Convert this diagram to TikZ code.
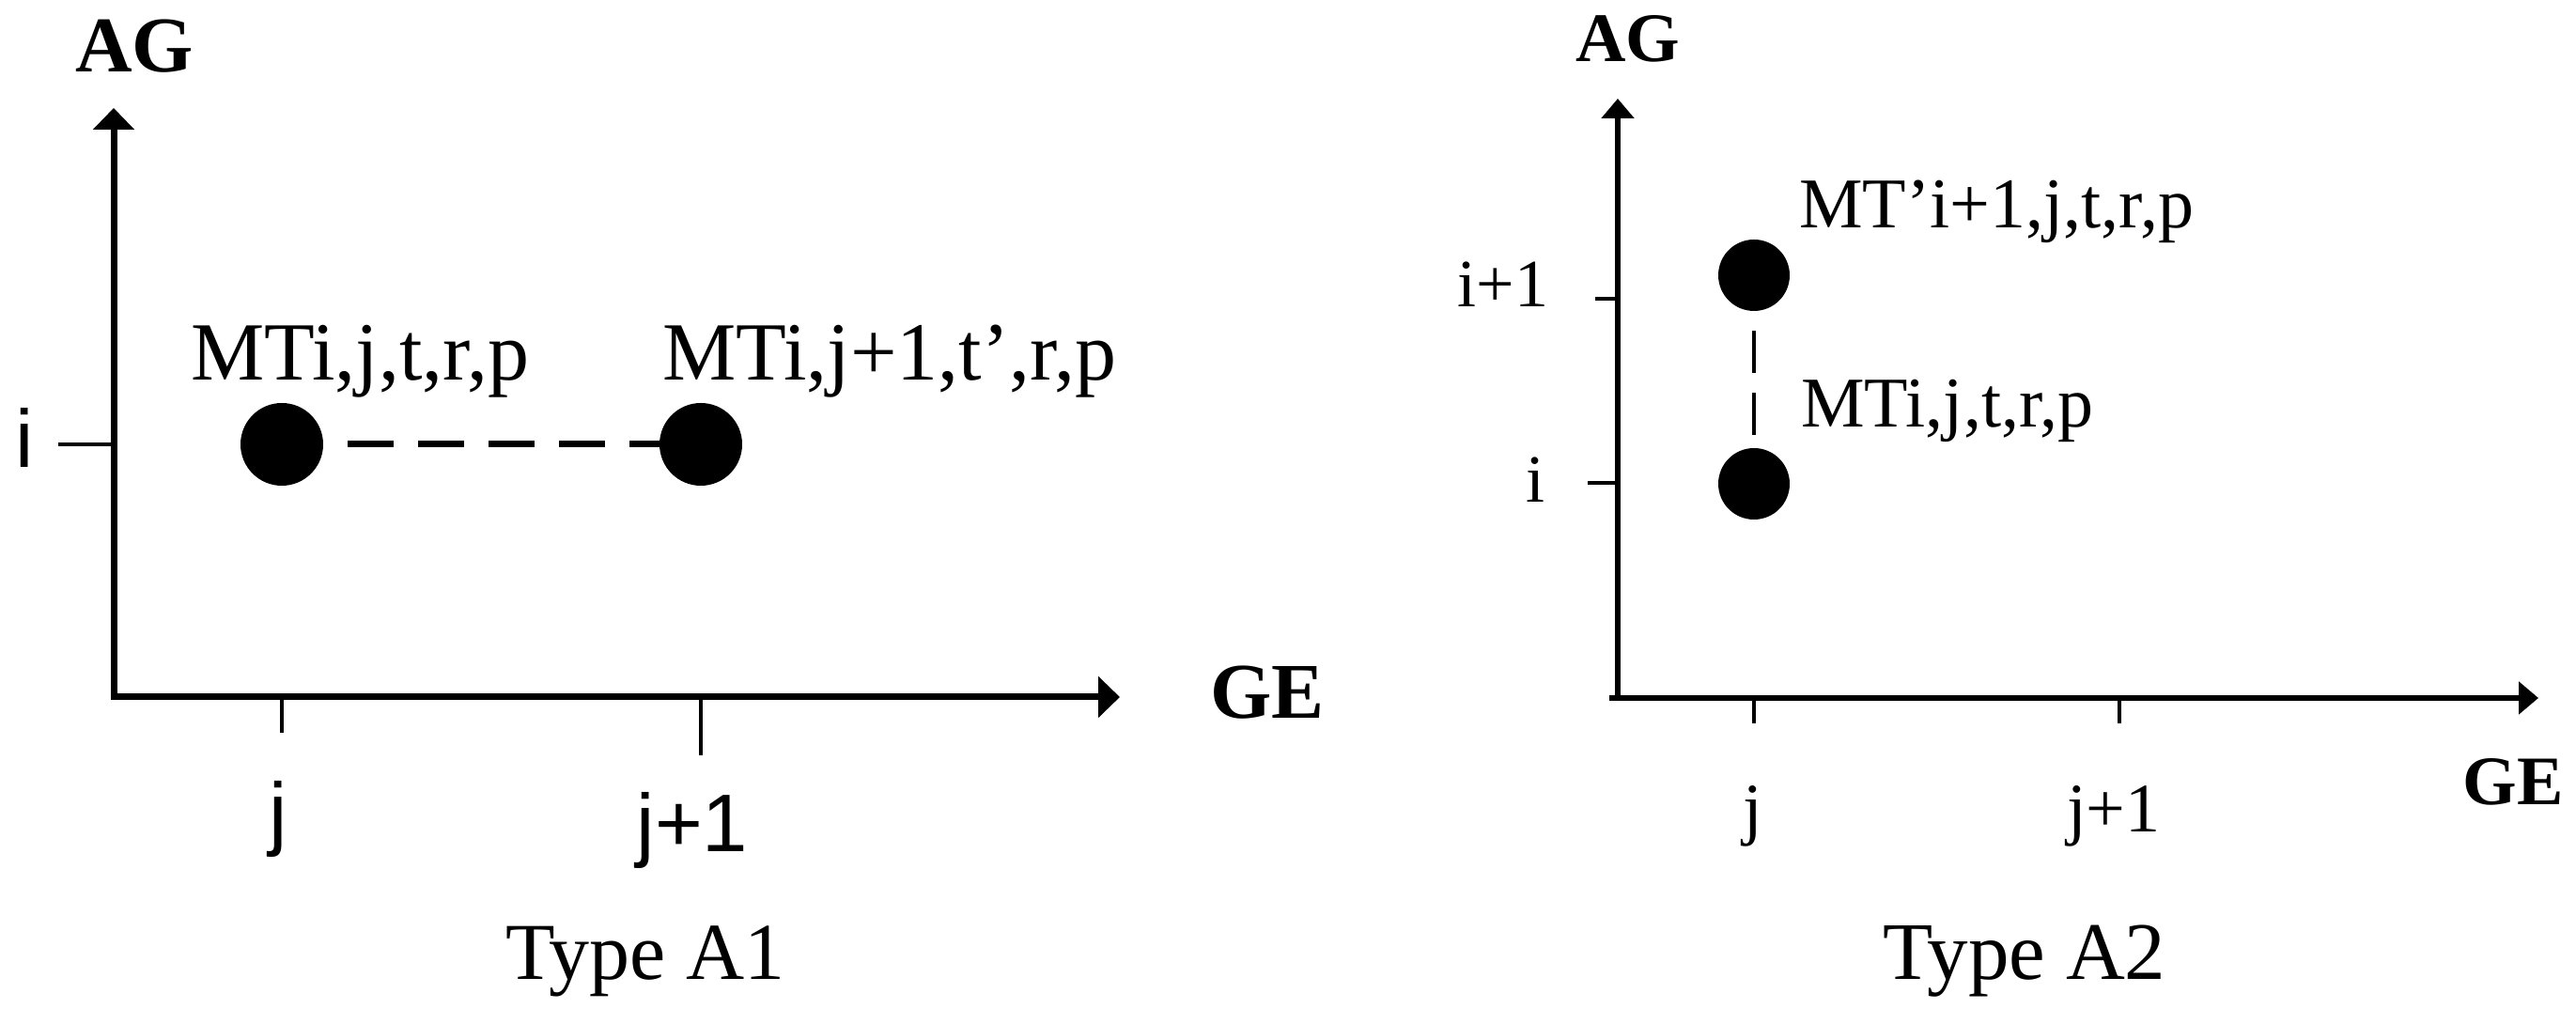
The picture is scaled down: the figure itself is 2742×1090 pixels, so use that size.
\documentclass[tikz,border=0pt]{standalone}
\usepackage{fontspec}
\setmainfont{Liberation Serif}
\setsansfont{Liberation Sans}
\usetikzlibrary{arrows.meta}
\newcommand\fsz[1]{\fontsize{#1}{#1}\selectfont}
\tikzset{
  axisA/.style={line width=3.5pt,
    {Triangle[length=11.5pt,width=21.5pt]}-{Triangle[length=11.5pt,width=21.5pt]}},
  axisB/.style={line width=2.8pt,
    {Triangle[length=10.5pt,width=17pt]}-{Triangle[length=10.5pt,width=17pt]}},
  tickA/.style={line width=2pt},
  tickB/.style={line width=2pt},
  dot/.style={circle,fill=black,inner sep=0pt,minimum size=#1},
  linkA/.style={line width=3.5pt,dash pattern=on 24.5pt off 13pt,dash phase=24.5pt},
  linkB/.style={line width=2pt,dash pattern=on 22.5pt off 10.5pt,dash phase=22.5pt},
  txt/.style={inner sep=0pt,anchor=base}
}
\begin{document}
\begin{tikzpicture}[x=0.5pt,y=0.5pt]
\useasboundingbox (0,0) rectangle (2742,1090);

% Type A1
\coordinate (o1) at (121,348);
\draw[axisA] (121,975) -- (o1) -- (1192,348);
\node[txt,font=\bfseries\fsz{42}] (ag1) at (143,1013) {AG};
\node[txt,anchor=base west,font=\bfseries\fsz{42}] (ge1) at (1288,325) {GE};
\draw[tickA] (62,617) -- (121,617);
\draw[tickA] (300,348) -- (300,310);
\draw[tickA] (746,348) -- (746,286);
\node[txt,font=\sffamily\fsz{43.5}] (i1) at (26,592) {i};
\node[txt,font=\sffamily\fsz{43.5}] (j1) at (296,195) {j};
\node[txt,font=\sffamily\fsz{43.5}] (jj1) at (737,183) {j+1};
\node[dot=44pt] (a1) at (300,617) {};
\node[dot=44pt] (b1) at (746,617) {};
\draw[linkA] (a1) -- (b1);
\node[txt,anchor=base west,font=\fsz{44}] (la1) at (203,685) {MTi,j,t,r,p};
\node[txt,anchor=base west,font=\fsz{44}] (lb1) at (705,685) {MTi,j+1,t',r,p};
\node[txt,font=\fsz{43}] (cap1) at (687,47) {Type A1};

% Type A2
\coordinate (o2) at (1722,347);
\draw[axisB] (1722,985) -- (o2) -- (2702,347);
\draw[line width=2.8pt] (1713,347) -- (o2);
\node[txt,font=\bfseries\fsz{37}] (ag2) at (1733,1024) {AG};
\node[txt,anchor=base east,font=\bfseries\fsz{37}] (ge2) at (2729,233) {GE};
\draw[tickB] (1698,772) -- (1722,772);
\draw[tickB] (1690,576) -- (1722,576);
\draw[tickB] (1867,347) -- (1867,320);
\draw[tickB] (2256,347) -- (2256,320);
\node[txt,font=\fsz{36}] (ii2) at (1600,763) {i+1};
\node[txt,font=\fsz{36}] (i2) at (1634,555) {i};
\node[txt,font=\fsz{37}] (j2) at (1866,204) {j};
\node[txt,font=\fsz{37}] (jj2) at (2250,204) {j+1};
\node[dot=38pt] (b2) at (1867,797) {};
\node[dot=38pt] (a2) at (1867,575) {};
\draw[linkB] (b2) -- (a2);
\node[txt,anchor=base west,font=\fsz{38}] (lb2) at (1915,847) {MT'i+1,j,t,r,p};
\node[txt,anchor=base west,font=\fsz{38}] (la2) at (1917,635) {MTi,j,t,r,p};
\node[txt,font=\fsz{43.5}] (cap2) at (2155,47) {Type A2};
\end{tikzpicture}
\end{document}
